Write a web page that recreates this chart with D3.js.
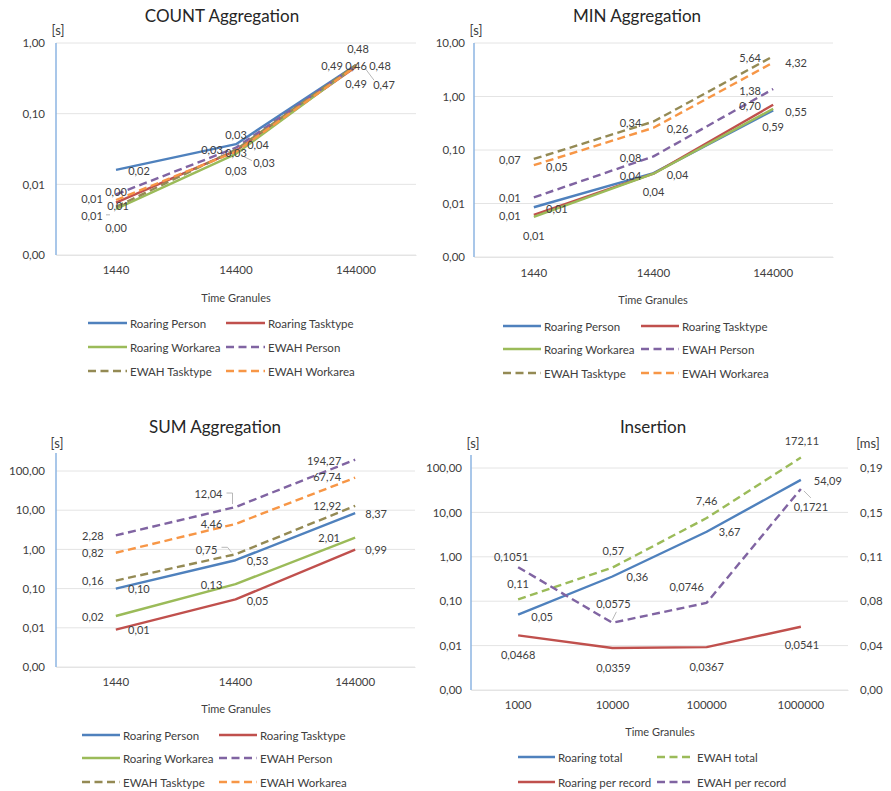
<!DOCTYPE html>
<html><head><meta charset="utf-8">
<script src="https://cdn.jsdelivr.net/npm/d3@7/dist/d3.min.js"></script>
<style>
body{margin:0;background:#fff}
text{font-family:Lato,"Open Sans",sans-serif}
</style>
</head><body>
<svg id="c" width="891" height="791"></svg>
<script>
// ---------------- DATA ----------------
const aggSeries = ["Roaring Person","Roaring Tasktype","Roaring Workarea","EWAH Person","EWAH Tasktype","EWAH Workarea"];
const aggCategories = ["1440","14400","144000"];
// values per series (rows follow aggSeries), in seconds
const countValues = [
  [0.016, 0.037, 0.49],
  [0.0055, 0.030, 0.46],
  [0.0045, 0.027, 0.48],
  [0.0072, 0.033, 0.48],
  [0.0048, 0.031, 0.49],
  [0.0060, 0.029, 0.47]
];
const minValues = [
  [0.0085, 0.037, 0.55],
  [0.0061, 0.036, 0.70],
  [0.0056, 0.036, 0.59],
  [0.013, 0.076, 1.38],
  [0.068, 0.34, 5.64],
  [0.052, 0.26, 4.32]
];
const sumValues = [
  [0.10, 0.53, 8.37],
  [0.009, 0.053, 0.99],
  [0.02, 0.13, 2.01],
  [2.28, 12.04, 194.27],
  [0.16, 0.75, 12.92],
  [0.82, 4.46, 67.74]
];
const insSeries = ["Roaring total","EWAH total","Roaring per record","EWAH per record"];
const insCategories = ["1000","10000","100000","1000000"];
const insRoaringTotal = [0.05, 0.36, 3.67, 54.09];       // [s]
const insEwahTotal = [0.11, 0.57, 7.46, 172.11];         // [s]
const insRoaringPerRecord = [0.0468, 0.0359, 0.0367, 0.0541]; // [ms]
const insEwahPerRecord = [0.1051, 0.0575, 0.0746, 0.1721];    // [ms]

const countTicks = [0.001, 0.01, 0.1, 1];
const minTicks = [0.001, 0.01, 0.1, 1, 10];
const sumTicks = [0.001, 0.01, 0.1, 1, 10, 100];
const insLeftTicks = [0.001, 0.01, 0.1, 1, 10, 100];
const insRightTicks = [0, 0.038, 0.076, 0.114, 0.152, 0.19];

// ---------------- STYLE / LAYOUT ----------------
const aggColors = ["#4F81BD","#C0504D","#9BBB59","#8064A2","#948A54","#F79646"];
const aggDashed = [false,false,false,true,true,true];
const insColors = ["#4F81BD","#9BBB59","#C0504D","#8064A2"];
const insDashed = [false,true,false,true];

// label offsets [dx,dy] relative to each point
const countLabelOff = [
  [[23,1],[22,0],[-24,1]],
  [[-24,13],[0,2],[0,-1]],
  [[0,19],[0,17],[24,0]],
  [[-24,4],[0,-13],[2,-17]],
  [[0,-15],[-24,0],[0,19]],
  [[2,5],[28,11],[28,18]]
];
const minLabelOff = [
  [[23,1],[-23,2],[23,1]],
  [[-24,1],[24,1],[-23,1]],
  [[0,19],[0,18],[0,18]],
  [[-24,0],[-23,1],[-23,1]],
  [[-24,1],[-23,1],[-23,1]],
  [[23,1],[24,1],[23,0]]
];
const sumLabelOff = [
  [[23,0],[22,0],[21,0]],
  [[23,0],[22,1],[21,0]],
  [[-23,1],[-24,0],[-26,0]],
  [[-23,0],[-27,-14],[-31,1]],
  [[-23,0],[-29,-5],[-28,0]],
  [[-23,0],[-24,0],[-28,-1]]
];
const insLabelOff = [
  [[24,2],[25,0],[23,0],[27,1]],
  [[0,-16],[1,-17],[0,-18],[1,-17]],
  [[0,19],[1,19],[0,19],[1,18]],
  [[-7,-11],[1,-19],[-20,-16],[10,18]]
];

const fmtComma = f => v => d3.format(f)(v).replace(".", ",");
const svg = d3.select("#c");

function drawChart(cfg) {
  const g = svg.append("g");
  const x = d3.scaleBand().domain(cfg.categories).range([cfg.left, cfg.right]);
  const cx = c => x(c) + x.bandwidth() / 2;
  const y = d3.scaleLog().domain([0.001, cfg.ticks[cfg.ticks.length - 1]]).range([cfg.bottom, cfg.gridTop]);
  let y2 = null;
  if (cfg.rightTicks) {
    y2 = d3.scaleLinear().domain([0, cfg.rightTicks[cfg.rightTicks.length - 1]]).range([cfg.bottom, cfg.gridTop]);
  }
  // gridlines
  g.append("g").selectAll("line").data(cfg.ticks).join("line")
    .attr("x1", cfg.left).attr("x2", cfg.right)
    .attr("y1", d => y(d)).attr("y2", d => y(d))
    .attr("stroke", "#E4E4E4").attr("stroke-width", 1);
  // vertical axis line
  g.append("line").attr("x1", cfg.left).attr("x2", cfg.left)
    .attr("y1", cfg.bottom).attr("y2", cfg.axisTop)
    .attr("stroke", "#8DB4E2").attr("stroke-width", 1.5);
  // y axis labels
  const ya = g.append("g").attr("transform", `translate(${cfg.left},0)`)
    .call(d3.axisLeft(y).tickValues(cfg.ticks).tickFormat(fmtComma(".2f")).tickSize(0).tickPadding(cfg.tickPad));
  ya.select(".domain").remove();
  ya.selectAll("text").attr("fill", "#404040").style("font-size", "11.5px").style("font-family", "Lato");
  if (y2) {
    const ya2 = g.append("g").attr("transform", `translate(${cfg.right},0)`)
      .call(d3.axisRight(y2).tickValues(cfg.rightTicks).tickFormat(fmtComma(".2f")).tickSize(0).tickPadding(12));
    ya2.select(".domain").remove();
    ya2.selectAll("text").attr("fill", "#404040").style("font-size", "11.5px").style("font-family", "Lato");
  }
  // x axis labels
  const xa = g.append("g").attr("transform", `translate(0,${cfg.bottom})`)
    .call(d3.axisBottom(x).tickSize(0).tickPadding(cfg.xPad));
  xa.select(".domain").attr("stroke", "#E4E4E4");
  xa.selectAll("text").attr("fill", "#404040").style("font-size", "11.5px").style("font-family", "Lato");
  // titles
  g.append("text").attr("x", cfg.titleX).attr("y", cfg.titleY).attr("text-anchor", "middle")
    .attr("dominant-baseline", "central").attr("fill", "#262626").style("font-size", "17px").text(cfg.title);
  g.append("text").attr("x", cfg.unitX).attr("y", cfg.unitY).attr("text-anchor", "middle")
    .attr("dominant-baseline", "central").attr("fill", "#404040").style("font-size", "13px").text("[s]");
  if (cfg.unit2X) {
    g.append("text").attr("x", cfg.unit2X).attr("y", cfg.unitY).attr("text-anchor", "middle")
      .attr("dominant-baseline", "central").attr("fill", "#404040").style("font-size", "13px").text("[ms]");
  }
  g.append("text").attr("x", cfg.xTitleX).attr("y", cfg.xTitleY).attr("text-anchor", "middle")
    .attr("dominant-baseline", "central").attr("fill", "#404040").style("font-size", "11px").text("Time Granules");
  // leader lines
  (cfg.leaders || []).forEach(L => {
    const px = cx(cfg.categories[L[1]]);
    const s = cfg.series[L[0]];
    const py = (s.right ? y2 : y)(s.values[L[1]]);
    const pts = L[2].map(p => [px + p[0], py + p[1]]);
    g.append("path").attr("d", d3.line()(pts)).attr("fill", "none")
      .attr("stroke", "#A6A6A6").attr("stroke-width", 0.8);
  });
  // series
  cfg.series.forEach((s, si) => {
    const sc = s.right ? y2 : y;
    const line = d3.line().x((d, i) => cx(cfg.categories[i])).y(d => sc(d));
    g.append("path").datum(s.values).attr("d", line).attr("fill", "none")
      .attr("stroke", s.color).attr("stroke-width", 2.4)
      .attr("stroke-dasharray", s.dashed ? "8,4.5" : null)
      .attr("stroke-linejoin", "round");
  });
  cfg.series.forEach((s, si) => {
    const sc = s.right ? y2 : y;
    g.append("g").selectAll("text").data(s.values).join("text")
      .attr("x", (d, i) => cx(cfg.categories[i]) + s.off[i][0])
      .attr("y", (d, i) => sc(d) + s.off[i][1])
      .attr("text-anchor", "middle").attr("dominant-baseline", "central")
      .attr("fill", "#404040").style("font-size", "11px")
      .text(d => fmtComma(s.fmt || ".2f")(d));
  });
  // legend
  cfg.legend.forEach(it => {
    const s = cfg.series[it.i];
    g.append("line").attr("x1", it.x).attr("x2", it.x + cfg.legLine).attr("y1", it.y).attr("y2", it.y)
      .attr("stroke", s.color).attr("stroke-width", 2.4)
      .attr("stroke-dasharray", s.dashed ? "8,4.5" : null);
    g.append("text").attr("x", it.x + cfg.legLine + 3).attr("y", it.y).attr("dominant-baseline", "central")
      .attr("fill", "#404040").style("font-size", "11.5px").text(s.name);
  });
}

function aggSeriesList(vals, offs) {
  return aggSeries.map((n, i) => ({ name: n, values: vals[i], color: aggColors[i], dashed: aggDashed[i], off: offs[i] }));
}
function aggLegend(c1, c2, rows) {
  const order = [[0,1],[2,3],[4,5]];
  const out = [];
  order.forEach((r, ri) => { out.push({ i: r[0], x: c1, y: rows[ri] }); out.push({ i: r[1], x: c2, y: rows[ri] }); });
  return out;
}

drawChart({
  title: "COUNT Aggregation", titleX: 222, titleY: 15, unitX: 58, unitY: 30,
  categories: aggCategories, ticks: countTicks,
  left: 56, right: 416, bottom: 255, gridTop: 43, axisTop: 43, tickPad: 11, xPad: 11,
  xTitleX: 236, xTitleY: 297,
  series: aggSeriesList(countValues, countLabelOff),
  legLine: 39, legend: aggLegend(88, 226, [323, 347, 371]),
  leaders: [[2,0,[[-10,6],[-6,6]]],[5,1,[[8,5],[16,9]]],[5,2,[[9,2],[18,14]]]]
});
drawChart({
  title: "MIN Aggregation", titleX: 637, titleY: 15, unitX: 476, unitY: 30,
  categories: aggCategories, ticks: minTicks,
  left: 474, right: 833, bottom: 257, gridTop: 43, axisTop: 43, tickPad: 9, xPad: 12,
  xTitleX: 653, xTitleY: 299,
  series: aggSeriesList(minValues, minLabelOff),
  legLine: 38, legend: aggLegend(503, 641, [326, 349, 373])
});
drawChart({
  title: "SUM Aggregation", titleX: 215, titleY: 426, unitX: 57, unitY: 443,
  categories: aggCategories, ticks: sumTicks,
  left: 56, right: 415, bottom: 667, gridTop: 471, axisTop: 453, tickPad: 11, xPad: 11,
  xTitleX: 236, xTitleY: 708,
  series: aggSeriesList(sumValues, sumLabelOff),
  legLine: 38, legend: aggLegend(82, 219, [735, 758, 782]),
  leaders: [[3,1,[[-9,-14],[-3,-14],[-3,-3]]],[4,1,[[-14,-7],[-8,-7],[-4,-2]]]]
});
drawChart({
  title: "Insertion", titleX: 653, titleY: 426, unitX: 473, unit2X: 868, unitY: 443,
  categories: insCategories, ticks: insLeftTicks, rightTicks: insRightTicks,
  left: 471, right: 848, bottom: 690, gridTop: 468, axisTop: 455, tickPad: 9, xPad: 11,
  xTitleX: 660, xTitleY: 731,
  series: [
    { name: insSeries[0], values: insRoaringTotal, color: insColors[0], dashed: insDashed[0], off: insLabelOff[0] },
    { name: insSeries[1], values: insEwahTotal, color: insColors[1], dashed: insDashed[1], off: insLabelOff[1] },
    { name: insSeries[2], values: insRoaringPerRecord, color: insColors[2], dashed: insDashed[2], off: insLabelOff[2], right: true, fmt: ".4f" },
    { name: insSeries[3], values: insEwahPerRecord, color: insColors[3], dashed: insDashed[3], off: insLabelOff[3], right: true, fmt: ".4f" }
  ],
  legLine: 37,
  legend: [{ i: 0, x: 518, y: 757 }, { i: 1, x: 657, y: 757 }, { i: 2, x: 518, y: 782 }, { i: 3, x: 657, y: 782 }],
  leaders: [[3,1,[[4,-11],[0,-3]]],[3,3,[[3,2],[10,9]]]]
});
</script>
</body></html>
